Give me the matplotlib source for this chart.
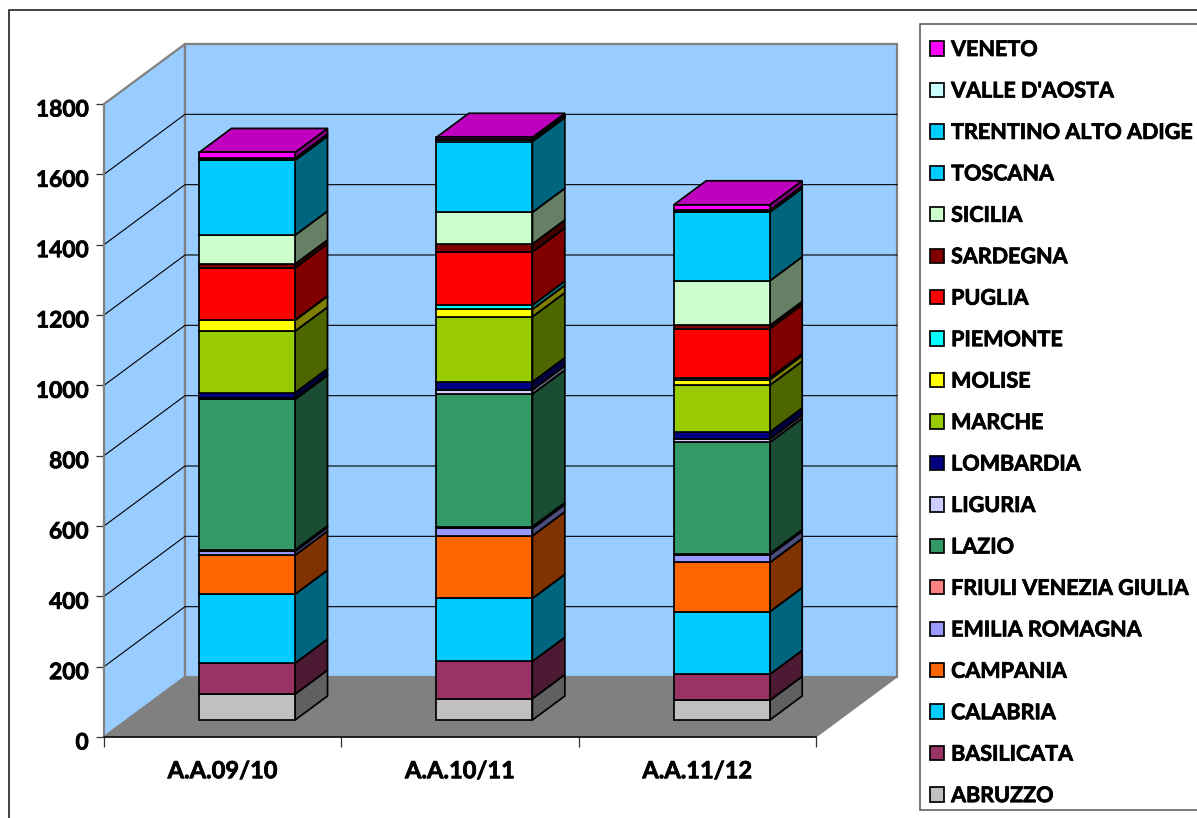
import matplotlib
matplotlib.use("Agg")
import matplotlib.pyplot as plt
import matplotlib.patheffects as pe
from matplotlib.lines import Line2D
from matplotlib.patches import Patch, Polygon, Rectangle
from matplotlib.transforms import ScaledTranslation
import matplotlib.colors as mcolors

W, H = 1197, 818

years = ["A.A.09/10", "A.A.10/11", "A.A.11/12"]
regions = ["ABRUZZO", "BASILICATA", "CALABRIA", "CAMPANIA", "EMILIA ROMAGNA",
           "FRIULI VENEZIA GIULIA", "LAZIO", "LIGURIA", "LOMBARDIA", "MARCHE",
           "MOLISE", "PIEMONTE", "PUGLIA", "SARDEGNA", "SICILIA", "TOSCANA",
           "TRENTINO ALTO ADIGE", "VALLE D'AOSTA", "VENETO"]

aa_0910 = [74, 88, 196, 111, 11, 4, 428, 3, 16, 175, 31, 1, 148, 11, 82, 213, 3, 3, 16]
aa_1011 = [61, 106, 179, 178, 21, 5, 377, 12, 23, 185, 21, 12, 151, 23, 90, 201, 3, 4, 5]
aa_1112 = [56, 74, 178, 140, 21, 4, 317, 9, 20, 133, 16, 5, 140, 9, 127, 195, 3, 3, 15]

colors = ["#C0C0C0", "#993366", "#00CCFF", "#FF6600", "#9999FF", "#FF8080",
          "#339966", "#CCCCFF", "#000080", "#99CC00", "#FFFF00", "#00FFFF",
          "#FF0000", "#800000", "#CCFFCC", "#00CCFF", "#00CCFF", "#CCFFFF",
          "#FF00FF"]

yticks = list(range(0, 1801, 200))

font = "Lato"
fs = 15.5
bolder = [pe.withStroke(linewidth=0.55, foreground="black")]


def shade(color, k):
    r, g, b = mcolors.to_rgb(color)
    return (r * k, g * k, b * k)


fig = plt.figure(figsize=(W / 100, H / 100), dpi=100, facecolor="white")
ax = fig.add_axes([104 / W, (H - 737) / H, 712 / W, 633 / H])
ax.set_xlim(0, 3)
ax.set_ylim(0, 1800)
ax.patch.set_visible(False)

# oblique depth: a full step back moves 81 px right and 60 px up
depth_x = 81 / 712 * 3
depth_y = 60 / 633 * 1800


def proj(x, y, d):
    return (x + d * depth_x, y + d * depth_y)


def face(points, color, z, lw=1.25, ec="black"):
    ax.add_patch(Polygon(points, closed=True, facecolor=color, edgecolor=ec,
                         linewidth=lw, clip_on=False, zorder=z, joinstyle="miter"))


# walls and floor
face([proj(0, 0, 0), proj(0, 1800, 0), proj(0, 1800, 1), proj(0, 0, 1)], "#99CCFF", 1, 1.6, "#808080")
face([proj(0, 0, 1), proj(0, 1800, 1), proj(3, 1800, 1), proj(3, 0, 1)], "#99CCFF", 1, 1.6, "#808080")
face([proj(0, 0, 0), proj(3, 0, 0), proj(3, 0, 1), proj(0, 0, 1)], "#808080", 1.5, 0.8, "#808080")

# gridlines on the left and back walls
for v in yticks[1:-1]:
    a, b, c = proj(0, v, 0), proj(0, v, 1), proj(3, v, 1)
    ax.plot([a[0], b[0], c[0]], [a[1], b[1], c[1]], color="black", lw=0.8,
            clip_on=False, zorder=2)

# stacked bars, drawn bottom to top
bar_w = 96 / 712 * 3
shift = 1.5 / 712 * 3
d0, d1 = 17 / 60, 41 / 60
z = 3
for i, vals in enumerate([aa_0910, aa_1011, aa_1112]):
    x0 = i + 0.5 + shift - bar_w / 2
    x1 = i + 0.5 + shift + bar_w / 2
    bottom = 0
    for val, col in zip(vals, colors):
        top = bottom + val
        face([proj(x1, bottom, d0), proj(x1, top, d0), proj(x1, top, d1), proj(x1, bottom, d1)],
             shade(col, 0.5), z)
        face([proj(x0, top, d0), proj(x1, top, d0), proj(x1, top, d1), proj(x0, top, d1)],
             shade(col, 0.75), z)
        face([proj(x0, bottom, d0), proj(x1, bottom, d0), proj(x1, top, d0), proj(x0, top, d0)],
             col, z + 0.5)
        z += 1
        bottom = top

# axes
for s in ["top", "right"]:
    ax.spines[s].set_visible(False)
ax.spines["left"].set_color("#808080")
ax.spines["left"].set_linewidth(1.4)
ax.spines["bottom"].set_color("black")
ax.spines["bottom"].set_linewidth(1.1)
ax.spines["left"].set_zorder(200)
ax.spines["bottom"].set_zorder(200)
ax.set_yticks(yticks)
ax.set_yticklabels([str(v) for v in yticks], fontfamily=font, fontweight="bold", fontsize=16.4)
ax.tick_params(axis="y", length=6, width=0.9, color="#333333", pad=5)
ax.set_xticks([0, 1, 2, 3])
ax.set_xticklabels([])
ax.tick_params(axis="x", which="major", length=7, width=0.9, color="#333333")
ax.set_xticks([0.5, 1.5, 2.5], minor=True)
ax.set_xticklabels(years, minor=True, fontfamily=font, fontweight="bold", fontsize=17)
ax.tick_params(axis="x", which="minor", length=0, pad=16)

down = ScaledTranslation(0, -4 / 100, fig.dpi_scale_trans)
for lbl in ax.get_yticklabels():
    lbl.set_transform(lbl.get_transform() + down)
    lbl.set_path_effects(bolder)
for lbl in ax.get_xticklabels(minor=True):
    lbl.set_path_effects(bolder)

# outer frame, runs off the right and bottom edges
fig.add_artist(Line2D([9 / W, 9 / W, 1], [0, (H - 10) / H, (H - 10) / H], color="#333333", lw=1.3))

# legend box
fig.add_artist(Rectangle((920 / W, (H - 810) / H), 300 / W, 786 / H, facecolor="white",
                         edgecolor="#555555", lw=1.1, transform=fig.transFigure))

handles = [Patch(facecolor=c, edgecolor="black", linewidth=1.25) for c in colors[::-1]]
leg = fig.legend(handles, regions[::-1], loc="upper left",
                 bbox_to_anchor=(930 / W, (H - 39) / H), borderaxespad=0, borderpad=0,
                 frameon=False, handlelength=0.65, handleheight=0.65, handletextpad=0.33,
                 labelspacing=0.95, prop={"family": font, "weight": "bold", "size": fs})
leg.set_zorder(10)
for t in leg.get_texts():
    t.set_path_effects(bolder)

fig.savefig("out.png", dpi=100)
